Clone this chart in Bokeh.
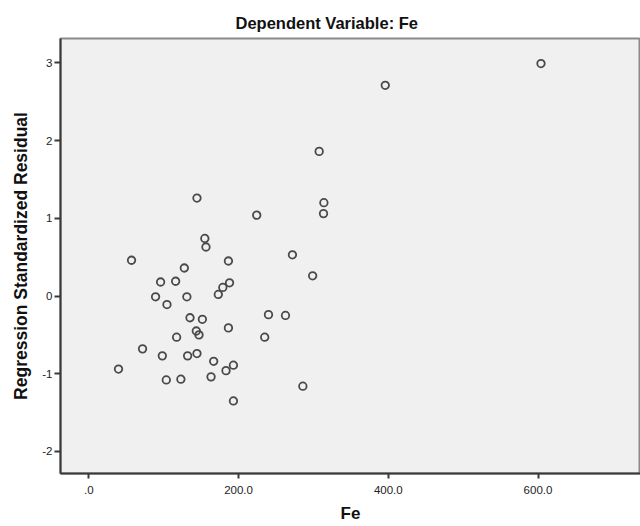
from bokeh.plotting import figure
from bokeh.models import FixedTicker, Range1d, Title, ColumnDataSource
from bokeh.embed import file_html
from bokeh.resources import INLINE

# Fe (x) and regression standardized residual (y)
fe = [604, 396, 307.7, 314, 313.5, 224.3, 144.5, 155, 156.5, 186.5, 272, 299,
      188, 179, 57.1, 127.6, 95.9, 116, 173, 89.2, 131, 104.4, 135.2, 151.7,
      240, 262.7, 143.6, 147.2, 186.5, 117.3, 235, 71.8, 98.2, 132, 144.5,
      166.8, 39.7, 183.3, 193.2, 103.5, 123, 163.3, 285.9, 193.2]
resid = [2.99, 2.71, 1.86, 1.20, 1.06, 1.04, 1.26, 0.74, 0.63, 0.45, 0.53, 0.26,
         0.17, 0.11, 0.46, 0.36, 0.18, 0.19, 0.02, -0.01, -0.01, -0.11, -0.28, -0.30,
         -0.24, -0.25, -0.45, -0.50, -0.41, -0.53, -0.53, -0.68, -0.77, -0.77, -0.74,
         -0.84, -0.94, -0.96, -0.89, -1.08, -1.07, -1.04, -1.16, -1.35]

x_ticks = [0, 200, 400, 600]
x_tick_labels = [".0", "200.0", "400.0", "600.0"]
y_ticks = [-2, -1, 0, 1, 2, 3]
y_tick_labels = ["-2", "-1", "0", "1", "2", "3"]

title_text = "Dependent Variable: Fe"
x_label = "Fe"
y_label = "Regression Standardized Residual"

src = ColumnDataSource(data=dict(fe=fe, resid=resid))

p = figure(width=640, height=526, output_backend="svg", toolbar_location=None,
           x_range=Range1d(-37.8, 736.9), y_range=Range1d(-2.283, 3.312),
           min_border_left=60, min_border_right=0, min_border_top=38,
           min_border_bottom=53, background_fill_color="#f0f0f0",
           border_fill_color="white")

p.add_layout(Title(text=title_text, align="left", offset=175, standoff=14,
                   text_font="Liberation Sans", text_font_size="16.5px",
                   text_font_style="bold", text_color="#111111"), "above")

p.scatter("fe", "resid", source=src, marker="circle", size=7.5,
          fill_color=None, line_color="#4a4a4a", line_width=1.8)

p.xgrid.visible = False
p.ygrid.visible = False
p.outline_line_color = "#8a8a8a"
p.outline_line_width = 2

for ax in (p.xaxis[0], p.yaxis[0]):
    ax.axis_line_color = "#3a3a3a"
    ax.axis_line_width = 2
    ax.major_tick_line_color = "#3a3a3a"
    ax.major_tick_line_width = 2
    ax.major_tick_in = 0
    ax.minor_tick_line_color = None
    ax.major_label_text_font = "Liberation Sans"
    ax.major_label_text_font_size = "11.5px"
    ax.major_label_text_color = "#222222"
    ax.axis_label_text_font = "Liberation Sans"
    ax.axis_label_text_font_size = "17.5px"
    ax.axis_label_text_font_style = "bold"
    ax.axis_label_text_color = "#111111"

p.xaxis[0].ticker = FixedTicker(ticks=x_ticks)
p.xaxis[0].major_label_overrides = dict(zip(x_ticks, x_tick_labels))
p.xaxis[0].major_tick_out = 5
p.xaxis[0].major_label_standoff = 7
p.xaxis[0].axis_label = x_label
p.xaxis[0].axis_label_text_font_size = "17px"
p.xaxis[0].axis_label_standoff = 7

p.yaxis[0].ticker = FixedTicker(ticks=y_ticks)
p.yaxis[0].major_label_overrides = dict(zip(y_ticks, y_tick_labels))
p.yaxis[0].major_tick_out = 6
p.yaxis[0].major_label_standoff = 2
p.yaxis[0].axis_label = y_label
p.yaxis[0].axis_label_standoff = 8

open("out.html", "w").write(file_html(p, INLINE))
